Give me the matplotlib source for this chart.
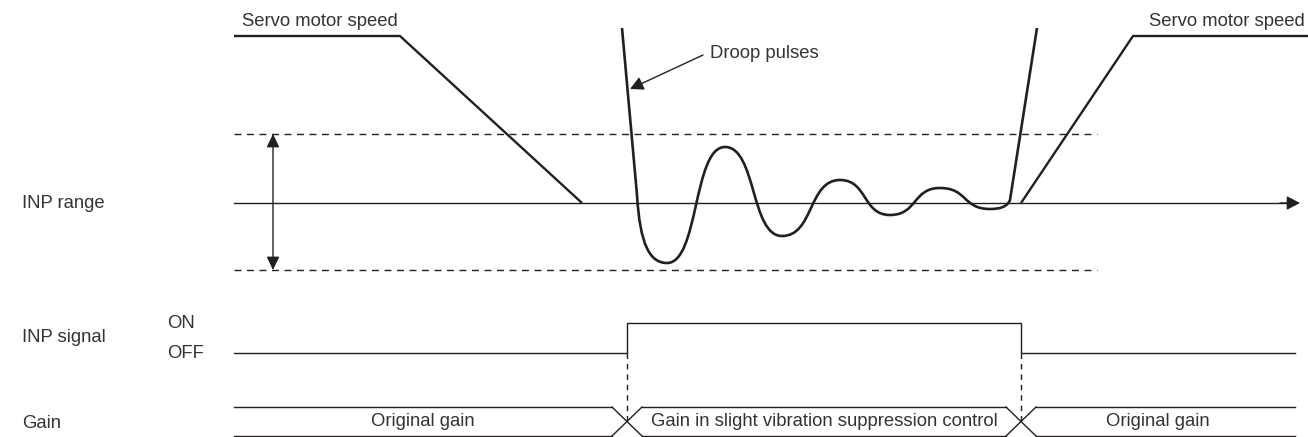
import matplotlib.pyplot as plt
from matplotlib.path import Path
from matplotlib.patches import PathPatch

plt.rcParams['font.family'] = ['Liberation Sans', 'DejaVu Sans']

INK = '#231f20'
TXT = '#333333'
FS = 13.3

# drawing coordinates are in pixels, y grows downward
servo_left_x = [234, 400, 582]
servo_left_y = [36, 36, 203]
servo_right_x = [1021, 1133, 1308]
servo_right_y = [203, 36, 36]

# droop pulse trace: straight entry, damped oscillation (extrema), straight exit
droop_entry = [(622, 28), (637, 195)]
droop_extrema_x = [667, 725, 782, 840, 890, 940, 990]
droop_extrema_y = [263, 147, 236, 180, 215, 188, 209]
droop_exit = [(1010, 200), (1037, 28)]

axis_y = 203
inp_upper, inp_lower = 134, 270
band_x = [234, 1097]

signal_off, signal_on = 353, 323
signal_edges = [627, 1021]
line_x = [234, 1295]

gain_top, gain_bot = 407, 436
gain_labels = ['Original gain', 'Gain in slight vibration suppression control', 'Original gain']
gain_label_x = [423, 824, 1158]

fig = plt.figure(figsize=(13.08, 4.37), dpi=100)
ax = fig.add_axes([0, 0, 1, 1])
ax.set_xlim(0, 1308)
ax.set_ylim(437, 0)
ax.axis('off')

head = '-|>,head_length=0.5,head_width=0.26'
head2 = '<|-|>,head_length=0.5,head_width=0.24'

# servo motor speed ramps
ax.plot(servo_left_x, servo_left_y, color=INK, lw=1.7, solid_capstyle='butt')
ax.plot(servo_right_x, servo_right_y, color=INK, lw=1.7, solid_capstyle='butt')
ax.text(242, 21, 'Servo motor speed', fontsize=FS, color=TXT, va='center', ha='left')
ax.text(1305, 21, 'Servo motor speed', fontsize=FS, color=TXT, va='center', ha='right')

# droop pulses as a bezier path
verts = [droop_entry[0], droop_entry[1]]
codes = [Path.MOVETO, Path.LINETO]
x0, y0 = droop_entry[1]
x1, y1 = droop_extrema_x[0], droop_extrema_y[0]
verts += [(x0 + 3, 245), (x1 - 17, y1), (x1, y1)]
codes += [Path.CURVE4] * 3
for i in range(1, len(droop_extrema_x)):
    xa, ya = droop_extrema_x[i - 1], droop_extrema_y[i - 1]
    xb, yb = droop_extrema_x[i], droop_extrema_y[i]
    k = 0.55 * (xb - xa)
    verts += [(xa + k, ya), (xb - k, yb), (xb, yb)]
    codes += [Path.CURVE4] * 3
xa, ya = droop_extrema_x[-1], droop_extrema_y[-1]
xb, yb = droop_exit[0]
verts += [(xa + 10, ya), (xb - 3, yb + 7), (xb, yb), droop_exit[1]]
codes += [Path.CURVE4] * 3 + [Path.LINETO]
ax.add_patch(PathPatch(Path(verts, codes), fill=False, ec=INK, lw=1.9))

ax.annotate('', xy=(630, 89), xytext=(703, 55),
            arrowprops=dict(arrowstyle=head, color=INK, lw=1.0, mutation_scale=16,
                            shrinkA=0, shrinkB=0))
ax.text(710, 54, 'Droop pulses', fontsize=FS, color=TXT, va='center', ha='left')

# INP range band
ax.plot(line_x, [axis_y, axis_y], color=INK, lw=1.0)
ax.annotate('', xy=(1300, axis_y), xytext=(1280, axis_y),
            arrowprops=dict(arrowstyle=head, color=INK, lw=1.0, mutation_scale=16,
                            shrinkA=0, shrinkB=0))
for yy in (inp_upper, inp_lower):
    ax.plot(band_x, [yy, yy], color=INK, lw=1.0, dashes=(5, 4))
ax.annotate('', xy=(273, inp_upper), xytext=(273, inp_lower),
            arrowprops=dict(arrowstyle=head2, color=INK, lw=1.0, mutation_scale=16,
                            shrinkA=0, shrinkB=0))
ax.text(22, 203, 'INP range', fontsize=FS, color=TXT, va='center', ha='left')

# INP signal
sx = [line_x[0], signal_edges[0], signal_edges[0], signal_edges[1], signal_edges[1], line_x[1]]
sy = [signal_off, signal_off, signal_on, signal_on, signal_off, signal_off]
ax.plot(sx, sy, color=INK, lw=1.0)
ax.text(22, 337, 'INP signal', fontsize=FS, color=TXT, va='center', ha='left')
ax.text(167, 324, 'ON', fontsize=FS, color=TXT, va='center', ha='left')
ax.text(167, 353, 'OFF', fontsize=FS, color=TXT, va='center', ha='left')
for ex in signal_edges:
    ax.plot([ex, ex], [signal_off, (gain_top + gain_bot) / 2], color=INK, lw=1.0, dashes=(4, 3.5))

# gain bus with crossovers at the signal edges
half = 15
gx = [line_x[0]] + [v for ex in signal_edges for v in (ex - half, ex + half)] + [line_x[1]]
for i in range(0, len(gx), 2):
    ax.plot([gx[i], gx[i + 1]], [gain_top, gain_top], color=INK, lw=1.0)
    ax.plot([gx[i], gx[i + 1]], [gain_bot, gain_bot], color=INK, lw=1.0)
for ex in signal_edges:
    ax.plot([ex - half, ex + half], [gain_top, gain_bot], color=INK, lw=1.0)
    ax.plot([ex - half, ex + half], [gain_bot, gain_top], color=INK, lw=1.0)
mid = (gain_top + gain_bot) / 2
for lbl, lx in zip(gain_labels, gain_label_x):
    ax.text(lx, mid, lbl, fontsize=FS, color=TXT, va='center', ha='center')
ax.text(22, 423, 'Gain', fontsize=FS, color=TXT, va='center', ha='left')

fig.savefig('out.png', dpi=100)
